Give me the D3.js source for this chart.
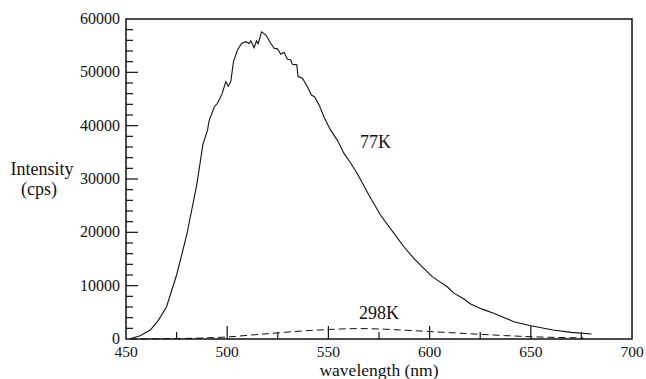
<!DOCTYPE html>
<html>
<head>
<meta charset="utf-8">
<script src="https://cdn.jsdelivr.net/npm/d3@7"></script>
<style>
  body { margin: 0; background: #fff; }
  text { font-family: "Liberation Serif", "Times New Roman", serif; fill: #111; }
</style>
</head>
<body>
<div id="chart"></div>
<script>
// emission spectra
var wl77 = [452, 457, 462, 466, 470, 475, 480, 485, 488, 490.3, 491.1, 493.6, 495.2, 497.5, 499.3, 500.5, 501.8,
  503.1, 505.1, 507.1, 509.2, 510.8, 511.7, 513.3, 514.5, 515.3, 517, 519.1, 521.5, 523.2, 524.8,
  526.5, 528.1, 529.8, 531.4, 532.2, 534.4, 535, 537.2, 539.6, 541.6, 543.2, 545.4, 548, 551,
  554.4, 557.7, 561, 564.3, 570, 575.8, 582.4, 587.3, 592.2, 597, 601.3, 604, 608.7, 612, 617,
  620, 626, 632, 641.6, 650, 661, 670, 680];
var int77 = [60, 620, 1690, 3500, 6000, 12000, 19500, 29000, 36500, 39200, 41000, 43500, 44200, 46000, 48250, 47400, 48300,
  52000, 54200, 55400, 55750, 55400, 55900, 54600, 55900, 55400, 57600, 57000, 55450, 54500, 54400,
  53400, 53750, 52450, 52300, 51500, 51400, 49200, 48900, 47300, 45750, 45400, 43900, 41500, 39200,
  37300, 34800, 33000, 31000, 27000, 23200, 19800, 17300, 15100, 13300, 11700, 11000, 9800, 8600, 7500,
  6600, 5600, 4800, 3250, 2500, 1700, 1250, 950];

var wl298 = [452, 470, 487, 500, 512, 525, 537, 550, 565, 575, 586, 600, 612, 625, 637, 650, 662, 676];
var int298 = [0, 60, 180, 380, 750, 1150, 1500, 1780, 1950, 1880, 1680, 1400, 1150, 880, 650, 430, 300, 200];

var xMajor = [450, 500, 550, 600, 650, 700];
var yMajor = [0, 10000, 20000, 30000, 40000, 50000, 60000];

var svgWidth = 646, svgHeight = 379;
var margin = { left: 126, right: 632, top: 19, bottom: 339 };

var svg = d3.select("#chart").append("svg")
  .attr("width", svgWidth)
  .attr("height", svgHeight);

var x = d3.scaleLinear().domain([450, 700]).range([margin.left, margin.right]);
var y = d3.scaleLinear().domain([0, 60000]).range([margin.bottom, margin.top]);

// minor ticks
var xMinor = d3.range(450, 701, 25).filter(d => xMajor.indexOf(d) < 0);
var yMinor = d3.range(0, 60001, 2000).filter(d => yMajor.indexOf(d) < 0);

svg.append("g").selectAll("line")
  .data(xMinor.concat(xMajor.slice(1, -1)))
  .enter().append("line")
  .attr("x1", d => x(d)).attr("x2", d => x(d))
  .attr("y1", margin.bottom)
  .attr("y2", d => margin.bottom - (xMajor.indexOf(d) >= 0 ? 13 : 7))
  .attr("stroke", "#111").attr("stroke-width", 1.2);

svg.append("g").selectAll("line")
  .data(yMinor.concat(yMajor.slice(1, -1)))
  .enter().append("line")
  .attr("y1", d => y(d)).attr("y2", d => y(d))
  .attr("x1", margin.left)
  .attr("x2", d => margin.left + (yMajor.indexOf(d) >= 0 ? 12 : 7))
  .attr("stroke", "#111").attr("stroke-width", 1.2);

// frame
svg.append("rect")
  .attr("x", margin.left).attr("y", margin.top)
  .attr("width", margin.right - margin.left).attr("height", margin.bottom - margin.top)
  .attr("fill", "none").attr("stroke", "#111").attr("stroke-width", 1.5);

// tick labels
svg.append("g").selectAll("text")
  .data(xMajor).enter().append("text")
  .attr("x", d => x(d)).attr("y", 357)
  .attr("text-anchor", "middle")
  .attr("font-size", "15.5px")
  .text(d => d);

svg.append("g").selectAll("text")
  .data(yMajor).enter().append("text")
  .attr("x", 120).attr("y", d => y(d) + 5)
  .attr("text-anchor", "end")
  .attr("font-size", "16px")
  .text(d => d);

// curves
var line77 = d3.line().x(d => x(d[0])).y(d => y(d[1]));
svg.append("path")
  .datum(d3.zip(wl77, int77))
  .attr("d", line77)
  .attr("fill", "none").attr("stroke", "#111").attr("stroke-width", 1.1);

svg.append("path")
  .datum(d3.zip(wl298, int298))
  .attr("d", d3.line().curve(d3.curveMonotoneX).x(d => x(d[0])).y(d => y(d[1])))
  .attr("fill", "none").attr("stroke", "#111").attr("stroke-width", 1)
  .attr("stroke-dasharray", "7,4");

// labels
svg.append("text").attr("x", 360).attr("y", 148).attr("font-size", "18px").text("77K");
svg.append("text").attr("x", 359).attr("y", 319).attr("font-size", "18px").text("298K");

svg.append("text").attr("x", 379).attr("y", 376)
  .attr("text-anchor", "middle").attr("font-size", "17.5px")
  .text("wavelength (nm)");

svg.append("text").attr("x", 42).attr("y", 175)
  .attr("text-anchor", "middle").attr("font-size", "18px")
  .text("Intensity");
svg.append("text").attr("x", 39).attr("y", 195)
  .attr("text-anchor", "middle").attr("font-size", "18px")
  .text("(cps)");
</script>
</body>
</html>
